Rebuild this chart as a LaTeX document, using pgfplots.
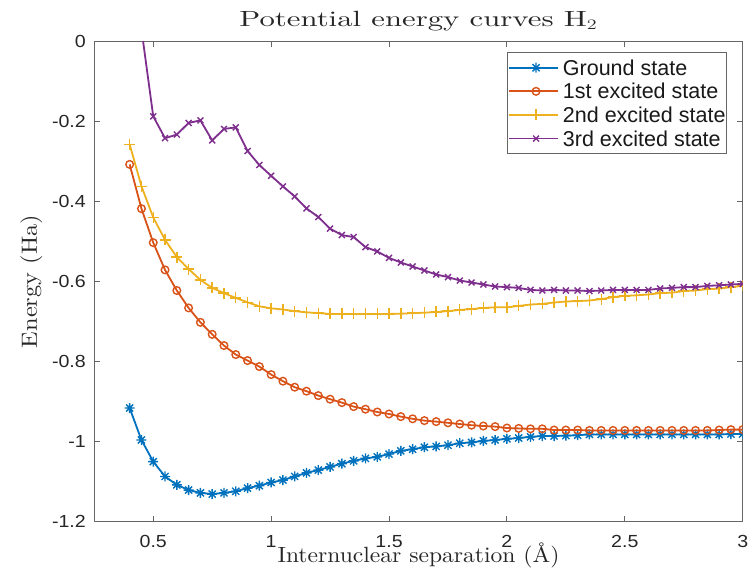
\documentclass[border=0pt]{standalone}
\usepackage{pgfplots}
\pgfplotsset{compat=1.18}
\usepackage{pgfplotstable}
\usepackage{graphicx}
\usepackage{fontspec}
\newfontfamily\helv{Liberation Sans}
\newfontfamily\cmten{lmroman10-regular}[Extension=.otf]
\definecolor{mblue}{rgb}{0,0.447,0.741}
\definecolor{morange}{rgb}{0.850,0.325,0.098}
\definecolor{myellow}{rgb}{0.929,0.694,0.125}
\definecolor{mpurple}{rgb}{0.494,0.184,0.556}
\definecolor{axgray}{rgb}{0.40,0.40,0.40}
\newcommand{\tl}[1]{\scalebox{1.12}[1]{#1}}
\pgfdeclareplotmark{mstar}{%
 \pgfpathmoveto{\pgfqpoint{-\pgfplotmarksize}{0pt}}\pgfpathlineto{\pgfqpoint{\pgfplotmarksize}{0pt}}%
 \pgfpathmoveto{\pgfqpoint{0pt}{-\pgfplotmarksize}}\pgfpathlineto{\pgfqpoint{0pt}{\pgfplotmarksize}}%
 \pgfpathmoveto{\pgfqpoint{-0.707\pgfplotmarksize}{-0.707\pgfplotmarksize}}\pgfpathlineto{\pgfqpoint{0.707\pgfplotmarksize}{0.707\pgfplotmarksize}}%
 \pgfpathmoveto{\pgfqpoint{-0.707\pgfplotmarksize}{0.707\pgfplotmarksize}}\pgfpathlineto{\pgfqpoint{0.707\pgfplotmarksize}{-0.707\pgfplotmarksize}}%
 \pgfusepathqstroke}
\pgfplotstableread{
x g e1 e2 e3
0.40 -0.916 -0.3075 -0.2575 0.35
0.45 -0.996 -0.418 -0.362 0.03
0.50 -1.050 -0.503 -0.440 -0.1875
0.55 -1.087 -0.571 -0.496 -0.242
0.60 -1.108 -0.6225 -0.539 -0.233
0.65 -1.121 -0.666 -0.569 -0.204
0.70 -1.128 -0.702 -0.596 -0.1975
0.75 -1.131 -0.732 -0.616 -0.2475
0.80 -1.128 -0.760 -0.629 -0.219
0.85 -1.124 -0.7825 -0.641 -0.215
0.90 -1.116 -0.7975 -0.652 -0.274
0.95 -1.110 -0.8125 -0.662 -0.309
1.00 -1.102 -0.8325 -0.667 -0.336
1.05 -1.096 -0.849 -0.670 -0.3625
1.10 -1.087 -0.864 -0.674 -0.3875
1.15 -1.078 -0.874 -0.677 -0.4175
1.20 -1.071 -0.885 -0.679 -0.439
1.25 -1.063 -0.894 -0.681 -0.468
1.30 -1.055 -0.9025 -0.681 -0.484
1.35 -1.048 -0.9125 -0.681 -0.489
1.40 -1.042 -0.919 -0.681 -0.514
1.45 -1.038 -0.926 -0.681 -0.525
1.50 -1.031 -0.931 -0.681 -0.541
1.55 -1.023 -0.9375 -0.6805 -0.5525
1.60 -1.019 -0.943 -0.679 -0.5625
1.65 -1.014 -0.9475 -0.678 -0.5725
1.70 -1.012 -0.950 -0.676 -0.5825
1.75 -1.009 -0.953 -0.674 -0.589
1.80 -1.004 -0.956 -0.671 -0.5975
1.85 -1.002 -0.959 -0.669 -0.6025
1.90 -0.998 -0.961 -0.666 -0.6075
1.95 -0.996 -0.9625 -0.6645 -0.6125
2.00 -0.993 -0.966 -0.6645 -0.614
2.05 -0.991 -0.967 -0.661 -0.616
2.10 -0.988 -0.968 -0.6575 -0.621
2.15 -0.986 -0.968 -0.656 -0.6225
2.20 -0.986 -0.971 -0.6525 -0.621
2.25 -0.985 -0.971 -0.650 -0.6225
2.30 -0.984 -0.971 -0.649 -0.6225
2.35 -0.982 -0.972 -0.6475 -0.624
2.40 -0.982 -0.972 -0.644 -0.6225
2.45 -0.982 -0.972 -0.639 -0.621
2.50 -0.982 -0.972 -0.636 -0.621
2.55 -0.982 -0.972 -0.6345 -0.621
2.60 -0.982 -0.972 -0.6325 -0.621
2.65 -0.982 -0.972 -0.629 -0.6175
2.70 -0.982 -0.972 -0.628 -0.616
2.75 -0.982 -0.972 -0.624 -0.614
2.80 -0.982 -0.972 -0.6225 -0.614
2.85 -0.982 -0.972 -0.619 -0.611
2.90 -0.982 -0.971 -0.618 -0.6095
2.95 -0.981 -0.970 -0.614 -0.6075
3.00 -0.981 -0.970 -0.611 -0.606
}\data
\begin{document}
\begin{tikzpicture}
\path[use as bounding box] (-94.3pt,-56.3pt) rectangle (660.7pt,521.7pt);
\begin{axis}[
  at={(0pt,0pt)}, anchor=south west,
  scale only axis, width=648.4pt, height=480.4pt,
  xmin=0.25, xmax=3, ymin=-1.2, ymax=0,
  xtick={0.5,1,1.5,2,2.5,3},
  ytick={-1.2,-1,-0.8,-0.6,-0.4,-0.2,0},
  yticklabels={\tl{-1.2},\tl{-1},\tl{-0.8},\tl{-0.6},\tl{-0.4},\tl{-0.2},\tl{0}},
  xticklabels={\tl{0.5},\tl{1},\tl{1.5},\tl{2},\tl{2.5},\tl{3}},
  clip marker paths=true,
  axis line style={draw=axgray, line width=0.9pt},
  tick align=inside, major tick length=6pt,
  tick style={draw=axgray, line width=0.9pt},
  xtick pos=both, ytick pos=both,
  xticklabel pos=lower, yticklabel pos=left,
  xticklabel style={font=\helv\fontsize{17.5}{20}\selectfont, text=black!85, inner sep=0pt, anchor=north, yshift=-13.3pt},
  yticklabel style={font=\helv\fontsize{17.5}{20}\selectfont, text=black!85, inner sep=0pt, anchor=east, xshift=-8.3pt},
  title={\resizebox{358pt}{\height}{\cmten\fontsize{22}{26}\selectfont Potential energy curves H$_2$}},
  title style={at={(axis description cs:0.5,1)}, anchor=base, yshift=9pt, inner sep=0pt, text=black!85},
  xlabel={\resizebox{282pt}{\height}{\cmten\fontsize{22}{26}\selectfont Internuclear separation (Å)}},
  xlabel style={at={(axis description cs:0.5,0)}, anchor=base, yshift=-41pt, inner sep=0pt, text=black!85},
  ylabel={\resizebox{133pt}{\height}{\cmten\fontsize{22}{26}\selectfont Energy (Ha)}},
  ylabel style={at={(axis description cs:-0.0884,0.5)}, anchor=base, inner sep=0pt, text=black!85},
  legend style={at={(axis description cs:0.636,0.9771)}, anchor=north west,
    draw=axgray, line width=0.9pt, fill=white,
    inner xsep=1pt, inner ysep=7.5pt, row sep=8.6pt, column sep=4pt,
    font=\helv\fontsize{21.5}{25}\selectfont, text=black!90,
    nodes={inner sep=0pt, text height=15pt, text depth=0pt, anchor=west}},
  legend cell align=left,
  legend image code/.code={\path (-5pt,0pt) -- (0pt,0pt);\draw[mark repeat=2,mark phase=2,#1] plot coordinates {(0pt,0pt) (22pt,0pt) (44pt,0pt)};},
]
\addplot[color=mblue, line width=1.8pt, mark=mstar, mark size=5pt, mark options={line width=1.4pt}] table[x=x,y=g]{\data};
\addlegendentry{Ground state}
\addplot[color=morange, line width=1.8pt, mark=o, mark size=3.8pt, mark options={line width=1.4pt}] table[x=x,y=e1]{\data};
\addlegendentry{1st excited state}
\addplot[color=myellow, line width=1.8pt, mark=+, mark size=5.5pt, mark options={line width=1.4pt}] table[x=x,y=e2]{\data};
\addlegendentry{2nd excited state}
\addplot[color=mpurple, line width=1.8pt, mark=x, mark size=4.2pt, mark options={line width=1.4pt}] table[x=x,y=e3]{\data};
\addlegendentry{3rd excited state}
\end{axis}
\end{tikzpicture}
\end{document}
